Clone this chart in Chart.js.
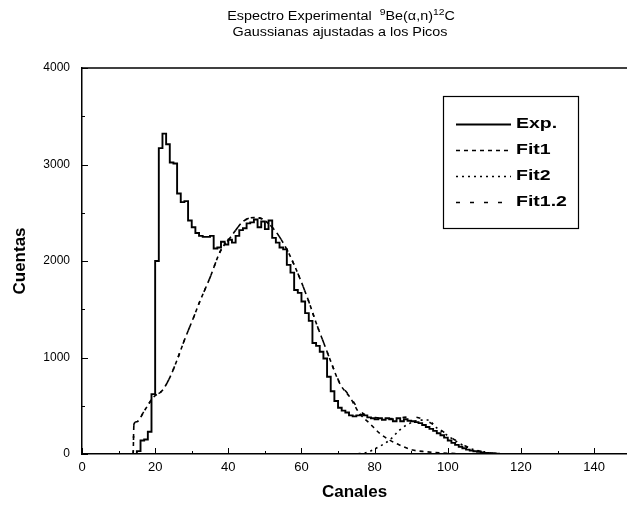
<!DOCTYPE html>
<html>
<head>
<meta charset="utf-8">
<script src="https://cdn.jsdelivr.net/npm/chart.js@4.4.1/dist/chart.umd.min.js"></script>
<style>
  body { margin: 0; background: #fff; }
  #wrap { width: 627px; height: 509px; }
</style>
</head>
<body>
<div id="wrap"><canvas id="espectro" width="627" height="509"></canvas></div>
<script>
// experimental spectrum, counts per channel
const expChannels = [
    14, 15, 16, 17, 18, 19, 20, 21, 22, 23, 24, 25, 26, 27, 28, 29, 30, 31, 32, 33,
    34, 35, 36, 37, 38, 39, 40, 41, 42, 43, 44, 45, 46, 47, 48, 49, 50, 51, 52, 53,
    54, 55, 56, 57, 58, 59, 60, 61, 62, 63, 64, 65, 66, 67, 68, 69, 70, 71, 72, 73,
    74, 75, 76, 77, 78, 79, 80, 81, 82, 83, 84, 85, 86, 87, 88, 89, 90, 91, 92, 93,
    94, 95, 96, 97, 98, 99, 100, 101, 102, 103, 104, 105, 106, 107, 108, 109, 110, 111, 112, 113,
    114, 115, 116
];
const expCounts = [
    0, 0, 30, 140, 150, 230, 620, 2000, 3170, 3320, 3210, 3020, 3010, 2700, 2610, 2620, 2420, 2350, 2290, 2260,
    2250, 2250, 2260, 2130, 2140, 2200, 2170, 2220, 2190, 2260, 2320, 2340, 2390, 2400, 2430, 2350, 2410, 2330, 2420, 2240,
    2190, 2140, 2120, 1960, 1880, 1700, 1670, 1580, 1460, 1380, 1150, 1120, 1060, 990, 800, 650, 550, 480, 450, 430,
    400, 390, 400, 405, 400, 380, 370, 360, 370, 355, 370, 360, 340, 370, 340, 360, 345, 340, 330, 320,
    300, 280, 260, 240, 215, 195, 170, 140, 115, 95, 75, 60, 45, 35, 28, 22, 16, 12, 8, 5,
    3, 0, 0
];

// fitted gaussians
const fit1X = [14, 14.2, 15, 17, 19.6, 22, 24.1, 26, 28, 30.5, 32.2, 35, 37.8, 40.5, 44.1, 47, 49, 52, 54, 56,
    58, 60, 62, 64, 66, 68, 70.5, 73.2, 75.9, 78.7, 81.4, 84.1, 86.8, 90.4, 94, 100, 106];
const fit1Y = [0, 310, 335, 445, 590, 660, 800, 975, 1180, 1415, 1580, 1828, 2100, 2240, 2412, 2450, 2440, 2350, 2250, 2120,
    1960, 1780, 1580, 1360, 1160, 960, 728, 591, 419, 316, 213, 144, 93, 41, 24, 8, 0];

const fit2X = [74, 77.8, 80.5, 84.1, 86.8, 89.5, 92.3, 94.5, 97, 100, 103, 106, 110, 115];
const fit2Y = [0, 15, 62, 144, 247, 316, 350, 352, 270, 190, 115, 60, 18, 0];

const fit12X = [14, 14.2, 15, 17, 19.6, 22, 24.1, 26, 28, 30.5, 32.2, 35, 37.8, 40.5, 44.1, 47, 49, 52, 54, 56,
    58, 60, 62, 64, 66, 68, 70.5, 73.2, 75.9, 78, 81, 84, 87, 90, 93, 96, 99, 102, 105, 108, 112, 116];
const fit12Y = [0, 310, 335, 445, 590, 660, 800, 975, 1180, 1415, 1580, 1828, 2100, 2240, 2412, 2450, 2440, 2350, 2250, 2120,
    1960, 1780, 1580, 1360, 1160, 960, 735, 600, 450, 395, 375, 365, 375, 385, 365, 305, 225, 145, 80, 38, 10, 0];

const xTickValues = [0, 20, 40, 60, 80, 100, 120, 140];
const yTickValues = [0, 1000, 2000, 3000, 4000];

const legendItems = [
    { text: 'Exp.', dash: [] },
    { text: 'Fit1', dash: [4, 4] },
    { text: 'Fit2', dash: [2, 4] },
    { text: 'Fit1.2', dash: [4, 10] }
];

function toPoints(xs, ys) {
    return xs.map((x, i) => ({ x: x, y: ys[i] }));
}

const sansFont = "'Liberation Sans', Arial, sans-serif";

// scanned text looks wider than the font, so stretch it a bit
function stretchedText(ctx, text, x, y, sx) {
    ctx.save();
    ctx.translate(x, y);
    ctx.scale(sx, 1);
    ctx.fillText(text, 0, 0);
    ctx.restore();
}

const decorPlugin = {
    id: 'decor',
    afterDatasetsDraw(chart) {
        const { ctx, chartArea: a, scales: { x, y } } = chart;
        ctx.save();
        ctx.strokeStyle = '#000';
        ctx.fillStyle = '#000';

        // top frame line
        ctx.lineWidth = 1.5;
        ctx.beginPath();
        ctx.moveTo(a.left, a.top);
        ctx.lineTo(a.right, a.top);
        ctx.stroke();

        // inner tick marks
        ctx.lineWidth = 1;
        for (let v = 0; v <= 4000; v += 500) {
            const py = Math.round(y.getPixelForValue(v)) + 0.5;
            const len = v % 1000 === 0 ? 6 : 3;
            ctx.beginPath();
            ctx.moveTo(a.left, py);
            ctx.lineTo(a.left + len, py);
            ctx.stroke();
        }
        for (let v = 0; v <= 140; v += 10) {
            const px = Math.round(x.getPixelForValue(v)) + 0.5;
            const len = v % 20 === 0 ? 6 : 3;
            ctx.beginPath();
            ctx.moveTo(px, a.bottom);
            ctx.lineTo(px, a.bottom - len);
            ctx.stroke();
        }

        // legend box
        const bx = 443, by = 96, bw = 135, bh = 132;
        ctx.lineWidth = 1.2;
        ctx.strokeRect(bx + 0.5, by + 0.5, bw, bh);
        const rows = [124, 150, 176, 202];
        ctx.font = 'bold 15px ' + sansFont;
        ctx.textBaseline = 'middle';
        ctx.textAlign = 'left';
        legendItems.forEach((item, i) => {
            ctx.setLineDash(item.dash);
            ctx.lineWidth = i === 0 ? 1.8 : 1.5;
            ctx.beginPath();
            ctx.moveTo(456, rows[i] + 0.5);
            ctx.lineTo(511, rows[i] + 0.5);
            ctx.stroke();
            ctx.setLineDash([]);
            stretchedText(ctx, item.text, 516, rows[i], 1.3);
        });
        ctx.restore();
    },
    afterDraw(chart) {
        const ctx = chart.ctx;
        ctx.save();
        ctx.fillStyle = '#000';
        ctx.textBaseline = 'alphabetic';
        const sx = 1.15;
        const big = '12.5px ' + sansFont;
        const small = '9px ' + sansFont;
        const parts = [
            { t: 'Espectro Experimental  ', f: big, dy: 0 },
            { t: '9', f: small, dy: -5 },
            { t: 'Be(\u03b1,n)', f: big, dy: 0 },
            { t: '12', f: small, dy: -5 },
            { t: 'C', f: big, dy: 0 }
        ];
        let total = 0;
        parts.forEach(p => { ctx.font = p.f; p.w = ctx.measureText(p.t).width * sx; total += p.w; });
        let cx = 341 - total / 2;
        ctx.textAlign = 'left';
        parts.forEach(p => {
            ctx.font = p.f;
            stretchedText(ctx, p.t, cx, 20 + p.dy, sx);
            cx += p.w;
        });
        ctx.font = big;
        const line2 = 'Gaussianas ajustadas a los Picos';
        const w2 = ctx.measureText(line2).width * sx;
        stretchedText(ctx, line2, 340 - w2 / 2, 36, sx);
        ctx.restore();
    }
};

document.addEventListener('DOMContentLoaded', function () {
    const canvas = document.getElementById('espectro');
    const ctx = canvas.getContext('2d');

    new Chart(ctx, {
        type: 'line',
        data: {
            datasets: [
                {
                    label: 'Exp.',
                    data: toPoints(expChannels, expCounts),
                    borderColor: '#000',
                    borderWidth: 1.9,
                    stepped: 'after',
                    pointRadius: 0,
                    fill: false
                },
                {
                    label: 'Fit1',
                    data: toPoints(fit1X, fit1Y),
                    borderColor: '#000',
                    borderWidth: 1.6,
                    borderDash: [4, 4],
                    cubicInterpolationMode: 'monotone',
                    pointRadius: 0,
                    fill: false
                },
                {
                    label: 'Fit2',
                    data: toPoints(fit2X, fit2Y),
                    borderColor: '#000',
                    borderWidth: 1.6,
                    borderDash: [2, 4],
                    cubicInterpolationMode: 'monotone',
                    pointRadius: 0,
                    fill: false
                },
                {
                    label: 'Fit1.2',
                    data: toPoints(fit12X, fit12Y),
                    borderColor: '#000',
                    borderWidth: 1.6,
                    borderDash: [4, 10],
                    cubicInterpolationMode: 'monotone',
                    pointRadius: 0,
                    fill: false
                }
            ]
        },
        options: {
            responsive: false,
            animation: false,
            layout: { padding: { top: 68, right: 0, left: 0, bottom: 0 } },
            scales: {
                x: {
                    type: 'linear',
                    min: 0,
                    max: 149,
                    afterBuildTicks: function (scale) {
                        scale.ticks = xTickValues.map(v => ({ value: v }));
                    },
                    afterFit: function (scale) { scale.height = 55; },
                    grid: { display: false, drawTicks: false },
                    border: { display: true, color: '#000', width: 1.5 },
                    ticks: {
                        color: '#000',
                        padding: 6,
                        maxRotation: 0,
                        callback: v => String(v),
                        font: { family: sansFont, size: 13 }
                    },
                    title: {
                        display: true,
                        text: 'Canales',
                        color: '#000',
                        padding: { top: 0, bottom: 6 },
                        font: { family: sansFont, size: 17, weight: 'bold' }
                    }
                },
                y: {
                    min: 0,
                    max: 4000,
                    afterBuildTicks: function (scale) {
                        scale.ticks = yTickValues.map(v => ({ value: v }));
                    },
                    afterFit: function (scale) { scale.width = 82; },
                    grid: { display: false, drawTicks: false },
                    border: { display: true, color: '#000', width: 1.5 },
                    ticks: {
                        color: '#000',
                        padding: 12,
                        callback: v => String(v),
                        font: { family: sansFont, size: 12 }
                    },
                    title: {
                        display: true,
                        text: 'Cuentas',
                        color: '#000',
                        padding: { top: 10, bottom: 0 },
                        font: { family: sansFont, size: 17, weight: 'bold' }
                    }
                }
            },
            plugins: {
                legend: { display: false },
                tooltip: { enabled: false },
                title: { display: false }
            }
        },
        plugins: [decorPlugin]
    });
});
</script>
</body>
</html>
